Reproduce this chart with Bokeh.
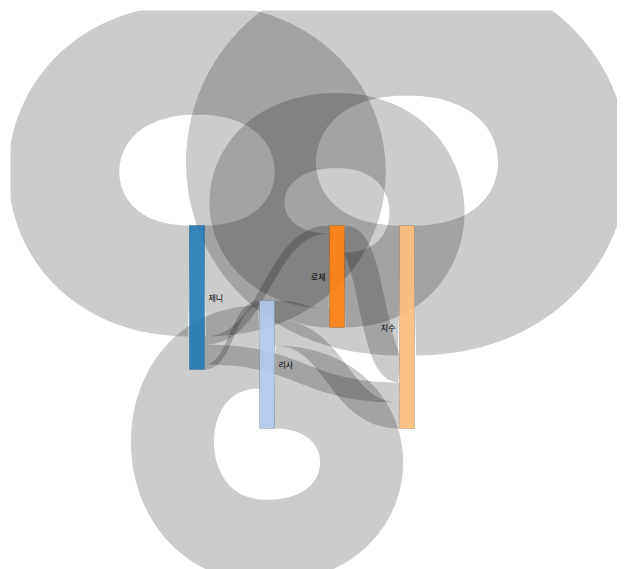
import numpy as np
from bokeh.plotting import figure
from bokeh.models import ColumnDataSource, Range1d
from bokeh.core.properties import value
from bokeh.palettes import Category20
from bokeh.embed import file_html
from bokeh.resources import INLINE

# nodes (one per column) and links, in the order the links were given
names = ["제니", "리사", "로제", "지수"]
columns = [0, 1, 2, 3]
sources = ["제니", "지수", "제니", "로제", "로제", "제니", "리사", "리사", "제니", "리사"]
targets = ["제니", "지수", "로제", "지수", "로제", "지수", "로제", "지수", "리사", "리사"]
values = [111, 130, 8, 27, 75, 20, 19, 26, 5, 83]

colors = dict(zip(names, Category20[20][:4]))

# layout box for the nodes (screen px), loops spill outside of it
X0, X1, Y0, Y1 = 189, 414, 225, 428
NODE_W = 15

n_cols = max(columns) + 1
kx = (X1 - X0 - NODE_W) / (n_cols - 1)

v_in = {n: 0 for n in names}
v_out = {n: 0 for n in names}
for s, t, v in zip(sources, targets, values):
    v_out[s] += v
    v_in[t] += v
node_val = {n: max(v_in[n], v_out[n]) for n in names}
ky = (Y1 - Y0) / max(node_val.values())

nx0, nx1, ny0, ny1 = {}, {}, {}, {}
for n, c in zip(names, columns):
    nx0[n] = X0 + c * kx
    nx1[n] = nx0[n] + NODE_W
    h = node_val[n] * ky
    # zig-zag: even columns hang from the top, odd ones sit on the bottom
    ny0[n] = Y0 if c % 2 == 0 else Y1 - h
    ny1[n] = ny0[n] + h

# stack links on each side of each node
idx = list(range(len(values)))
sy, ty = {}, {}
for n in names:
    outs = sorted([i for i in idx if sources[i] == n], key=lambda i: (ny0[targets[i]], i))
    off = ny0[n]
    for i in outs:
        sy[i] = off + values[i] * ky / 2
        off += values[i] * ky
    ins = sorted([i for i in idx if targets[i] == n], key=lambda i: (ny0[sources[i]], i))
    off = ny0[n]
    for i in ins:
        ty[i] = off + values[i] * ky / 2
        off += values[i] * ky


def cubic(p0, p1, p2, p3, n=50):
    t = np.linspace(0, 1, n)[:, None]
    p0, p1, p2, p3 = map(np.array, (p0, p1, p2, p3))
    pts = (1 - t) ** 3 * p0 + 3 * (1 - t) ** 2 * t * p1 + 3 * (1 - t) * t ** 2 * p2 + t ** 3 * p3
    return list(pts[:, 0]), list(pts[:, 1])


xs, ys, ws = [], [], []
for i in idx:
    s, t = sources[i], targets[i]
    w = values[i] * ky
    if s == t:
        cx = (nx0[s] + nx1[s]) / 2
        down = ny0[s] > Y0 + 1e-6
        d = 1 if down else -1
        ya = (sy[i] + ty[i]) / 2 + d * (2.1 if down else 2.0) * w
        H = (1.14 if down else 1.2) * w
        xr = (8 * (cx + H) - nx1[s] - cx) / 6
        xl = (8 * (cx - H) - nx0[s] - cx) / 6
        ax, ay = cubic((nx1[s], sy[i]), (xr, sy[i]), (xr, ya), (cx, ya))
        bx, by = cubic((cx, ya), (xl, ya), (xl, ty[i]), (nx0[t], ty[i]))
        px, py = ax + bx[1:], ay + by[1:]
    else:
        xa, xb = nx1[s], nx0[t]
        xm = (xa + xb) / 2
        px, py = cubic((xa, sy[i]), (xm, sy[i]), (xm, ty[i]), (xb, ty[i]))
    xs.append(px)
    ys.append(py)
    ws.append(w)

p = figure(width=617, height=569, output_backend="svg", toolbar_location=None,
           x_range=Range1d(10, 617), y_range=Range1d(569, 10),
           min_border_left=10, min_border_top=10, min_border_right=0, min_border_bottom=0)
p.axis.visible = False
p.grid.visible = False
p.outline_line_color = None
p.background_fill_color = "white"
p.border_fill_color = "white"

links = ColumnDataSource(dict(xs=xs, ys=ys, w=ws))
p.multi_line("xs", "ys", source=links, line_width="w", line_color="black",
             line_alpha=0.2, line_cap="butt", line_join="round")


def darker(hexc, k=0.49):
    r, g, b = (int(hexc[j:j + 2], 16) for j in (1, 3, 5))
    return "#%02x%02x%02x" % (int(r * k), int(g * k), int(b * k))


nodes = ColumnDataSource(dict(
    left=[nx0[n] for n in names], right=[nx1[n] for n in names],
    top=[ny0[n] for n in names], bottom=[ny1[n] for n in names],
    fill=[colors[n] for n in names], edge=[darker(colors[n]) for n in names],
))
p.quad(left="left", right="right", top="top", bottom="bottom", source=nodes,
       fill_color="fill", fill_alpha=0.9, line_color="edge", line_alpha=0.3, line_width=1)

mid = (10 + 617) / 2
lab_r = [n for n in names if (nx0[n] + nx1[n]) / 2 < mid]
lab_l = [n for n in names if (nx0[n] + nx1[n]) / 2 >= mid]
p.text(x=[nx1[n] + 4 for n in lab_r], y=[(ny0[n] + ny1[n]) / 2 for n in lab_r], text=lab_r,
       text_align="left", text_baseline="middle", text_font=value("Noto Sans CJK KR"),
       text_font_size="8px", text_color="black")
p.text(x=[nx0[n] - 4 for n in lab_l], y=[(ny0[n] + ny1[n]) / 2 for n in lab_l], text=lab_l,
       text_align="right", text_baseline="middle", text_font=value("Noto Sans CJK KR"),
       text_font_size="8px", text_color="black")

open("out.html", "w").write(file_html(p, INLINE))
